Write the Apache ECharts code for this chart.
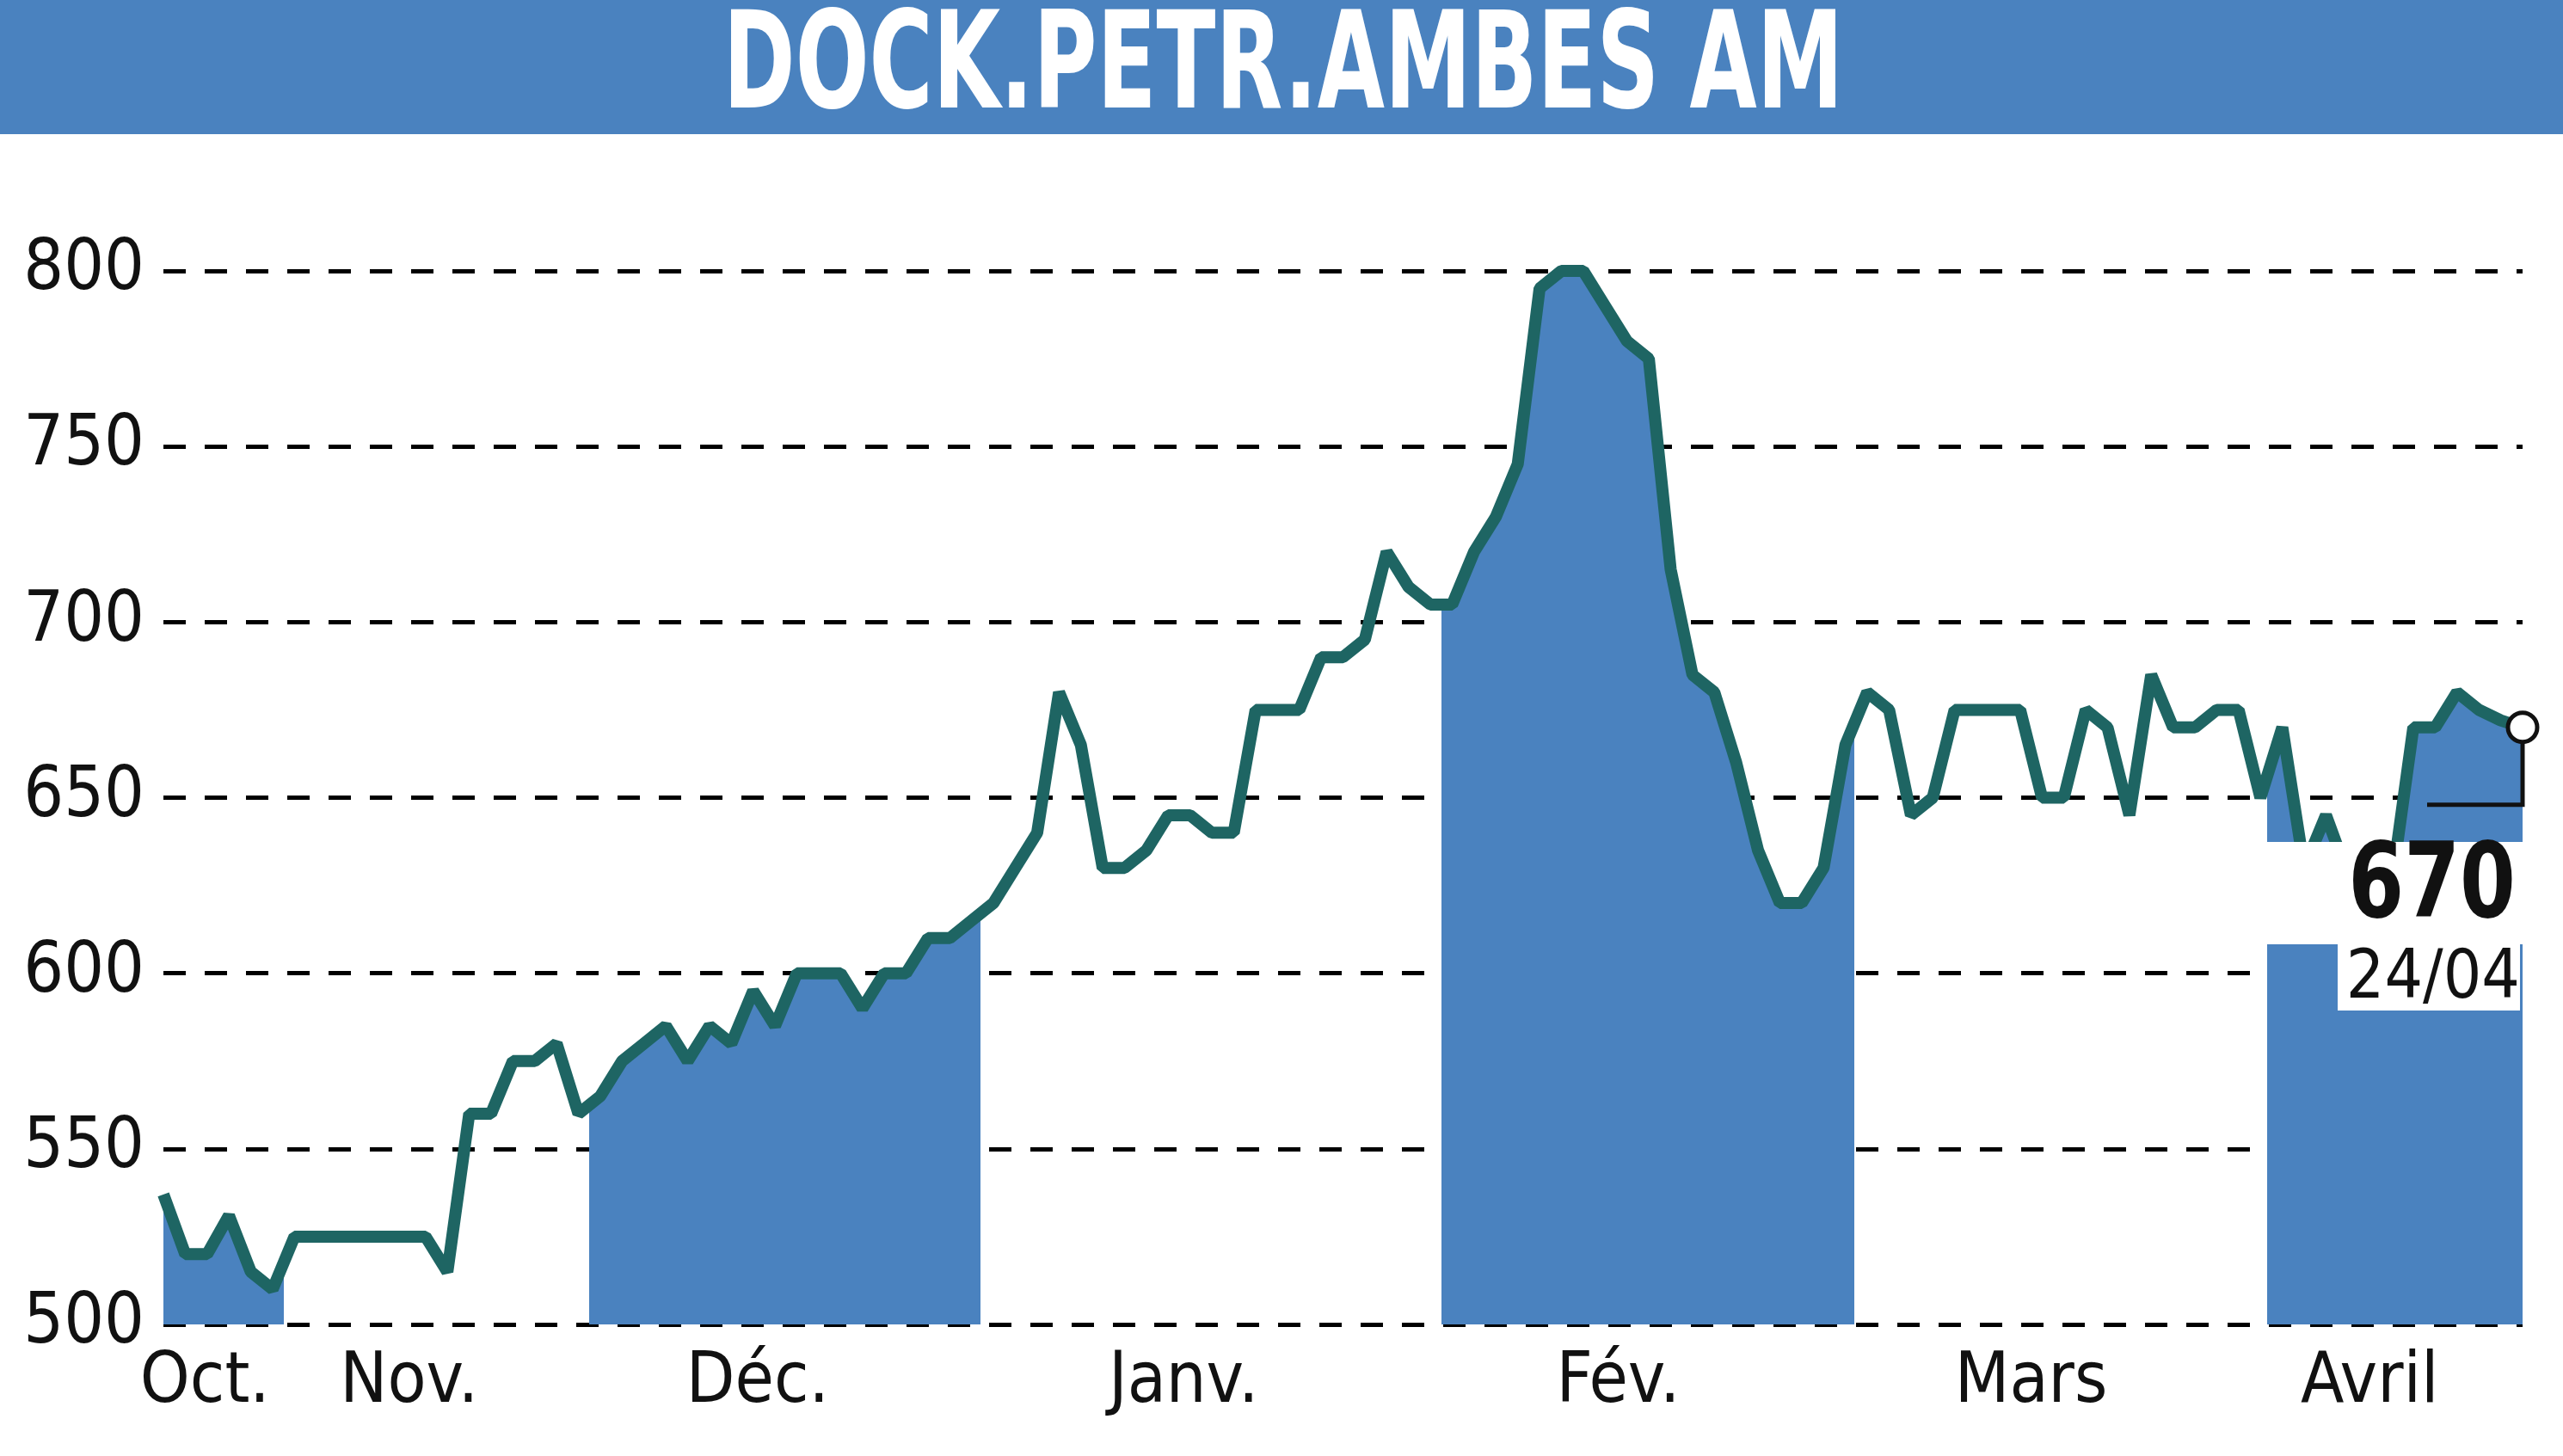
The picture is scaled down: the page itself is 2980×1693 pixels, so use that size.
<!DOCTYPE html>
<html><head><meta charset="utf-8">
<script src="https://cdn.jsdelivr.net/npm/echarts@6/dist/echarts.min.js"></script>
<style>html,body{margin:0;padding:0;background:#fff}#c{width:2980px;height:1693px}</style>
</head><body><div id="c"></div>
<script>
const title = 'DOCK.PETR.AMBES AM';
const prices = [537,520,520,531,515,510,525,525,525,525,525,525,525,515,560,560,575,575,580,560,
565,575,580,585,575,585,580,595,585,600,600,600,590,600,600,610,610,615,620,630,
640,680,665,630,630,635,645,645,640,640,675,675,675,690,690,695,720,710,705,705,
720,730,745,795,800,800,790,780,775,715,685,680,660,635,620,620,630,665,680,675,
645,650,675,675,675,675,650,650,675,670,645,685,670,670,675,675,650,670,630,645,
628,620,625,670,670,680,675,672,670];
const monthNames = ['Oct.','Nov.','Déc.','Janv.','Fév.','Mars','Avril'];
const monthLabelPos = [1.9,11.25,27.2,46.7,66.6,85.5,101];
const shadedBands = [[0,5.5],[19.5,37.4],[58.5,77.4],[96.3,108.5]];
const yTicks = [500,550,600,650,700,750,800];
const lastLabel = '670', lastDate = '24/04';

const pts = prices.map((v,i)=>[i,v]);
const FONT = '"DejaVu Sans Condensed","Liberation Sans Narrow",sans-serif';
const chart = echarts.init(document.getElementById('c'));
chart.setOption({
  animation:false,
  backgroundColor:'#fff',
  grid:{left:190,right:47,top:315,bottom:153},
  xAxis:{type:'value',min:0,max:108,
    axisLine:{show:false},axisTick:{show:false},splitLine:{show:false},
    axisLabel:{customValues:monthLabelPos,formatter:v=>monthNames[monthLabelPos.indexOf(v)]||'',
      fontFamily:FONT,fontSize:82,color:'#111',margin:28}},
  yAxis:{type:'value',min:500,max:800,interval:50,
    axisLine:{show:false},axisTick:{show:false},
    axisLabel:{fontFamily:FONT,fontSize:82,color:'#111',margin:22},
    splitLine:{lineStyle:{color:'#000',width:5,type:[26,22]}}},
  visualMap:{show:false,type:'piecewise',dimension:0,seriesIndex:0,
    pieces:shadedBands.map(b=>({gt:b[0],lte:b[1],color:'#4a82bf'})),
    outOfRange:{color:'rgba(255,255,255,0)'}},
  series:[
    {type:'line',data:pts,symbol:'none',lineStyle:{width:0},areaStyle:{opacity:1},z:1},
    {type:'line',data:pts,symbol:'none',lineStyle:{color:'#1e6563',width:14},z:3}
  ]
});
const last = chart.convertToPixel({gridIndex:0},[108,prices[108]]);
const cornerY = chart.convertToPixel({gridIndex:0},[0,648])[1];
chart.setOption({graphic:[
  {type:'rect',shape:{x:0,y:0,width:2980,height:156},style:{fill:'#4a82bf'},z:10},
  {type:'text',x:1492,y:84,scaleX:0.72,style:{text:title,fill:'#fff',font:'bold 156px '+FONT,align:'center',verticalAlign:'middle'},z:11},
  {type:'rect',shape:{x:2620,y:979,width:320,height:119},style:{fill:'#fff'},z:20},
  {type:'rect',shape:{x:2718,y:1098,width:212,height:77},style:{fill:'#fff'},z:20},
  {type:'polyline',shape:{points:[[2822,cornerY],[last[0],cornerY],[last[0],last[1]]]},style:{stroke:'#111',lineWidth:5,fill:null},z:21},
  {type:'circle',shape:{cx:last[0],cy:last[1],r:17},style:{fill:'#fff',stroke:'#111',lineWidth:5},z:22},
  {type:'text',x:2925,y:1095,scaleX:0.85,style:{text:lastLabel,fill:'#111',font:'bold 122px '+FONT,align:'right',verticalAlign:'bottom'},z:23},
  {type:'text',x:2930,y:1140,style:{text:lastDate,fill:'#111',font:'78px '+FONT,align:'right',verticalAlign:'middle'},z:23}
]});
</script></body></html>
